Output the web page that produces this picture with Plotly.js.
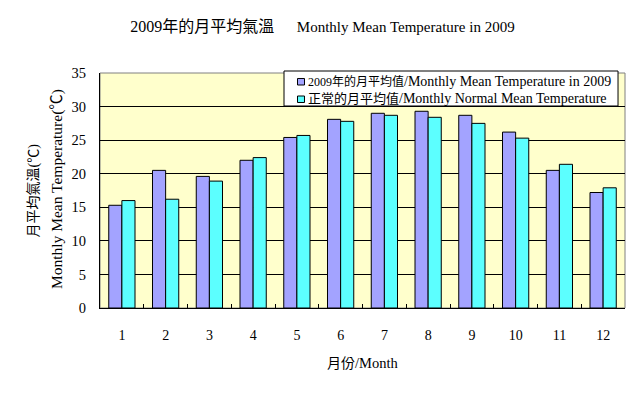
<!DOCTYPE html>
<html>
<head>
<meta charset="utf-8">
<script src="https://cdn.plot.ly/plotly-3.0.1.min.js"></script>
<style>html,body{margin:0;padding:0;background:#fff;}#chart{width:644px;height:393px;}</style>
</head>
<body>
<div id="chart"></div>
<script>
var months = ['1','2','3','4','5','6','7','8','9','10','11','12'];
var mean2009 = [15.3, 20.5, 19.6, 22.0, 25.4, 28.1, 29.0, 29.3, 28.7, 26.2, 20.5, 17.2];
var normalMean = [16.0, 16.2, 18.9, 22.4, 25.7, 27.8, 28.7, 28.4, 27.5, 25.3, 21.4, 17.9];
var seriesCJK = ['2009年的月平均值', '正常的月平均值'];
var seriesEN = ['/Monthly Mean Temperature in 2009', '/Monthly Normal Mean Temperature'];
var seriesColors = ['#A3A3FF', '#5CFFFF'];
var yTicks = [0, 5, 10, 15, 20, 25, 30, 35];

var FONT = '"Liberation Serif", "Times New Roman", "Noto Sans CJK TC", serif';
function cjk(t, s) { return '<span style="font-size:' + s + 'px">' + t + '</span>'; }

var traces = [
  {type: 'bar', x: months, y: mean2009, name: seriesCJK[0] + seriesEN[0],
   marker: {color: seriesColors[0], line: {color: '#000', width: 1}}},
  {type: 'bar', x: months, y: normalMean, name: seriesCJK[1] + seriesEN[1],
   marker: {color: seriesColors[1], line: {color: '#000', width: 1}}}
];

// legend drawn as a framed box in paper coordinates
var legendShapes = [
  {type: 'rect', xref: 'paper', yref: 'paper', x0: 0.3505, x1: 0.9867, y0: 0.8596, y1: 1.0085,
   fillcolor: '#ffffff', line: {color: '#000', width: 1}, layer: 'above'},
  {type: 'rect', xref: 'paper', yref: 'paper', x0: 0.3762, x1: 0.3895, y0: 0.9489, y1: 0.9766,
   fillcolor: seriesColors[0], line: {color: '#000', width: 1}, layer: 'above'},
  {type: 'rect', xref: 'paper', yref: 'paper', x0: 0.3762, x1: 0.3895, y0: 0.8745, y1: 0.9021,
   fillcolor: seriesColors[1], line: {color: '#000', width: 1}, layer: 'above'}
];

var layout = {
  width: 644, height: 393,
  margin: {l: 100, r: 19, t: 73, b: 85},
  paper_bgcolor: '#ffffff',
  plot_bgcolor: '#FFFFCC',
  font: {family: FONT, size: 14, color: '#000'},
  barmode: 'group',
  bargap: 0.4,
  bargroupgap: 0,
  showlegend: false,
  title: {text: cjk('2009年的月平均氣溫', 16) + '      Monthly Mean Temperature in 2009',
          x: 0.5008, xanchor: 'center', y: 0.931, yanchor: 'middle',
          font: {family: FONT, size: 15, color: '#000'}},
  xaxis: {type: 'category', showgrid: false, showline: true, linecolor: '#000', linewidth: 1,
          ticks: 'inside', tickson: 'boundaries', ticklen: 4, tickcolor: '#000',
          ticklabelstandoff: 14,
          tickfont: {family: FONT, size: 14}, zeroline: false},
  yaxis: {range: [0, 35], tickvals: yTicks, ticktext: yTicks.map(String),
          showgrid: true, gridcolor: '#000', gridwidth: 1,
          showline: true, linecolor: '#000', linewidth: 1,
          ticks: '', zeroline: false, ticklabelstandoff: 10,
          tickfont: {family: FONT, size: 14.5}},
  shapes: [{type: 'rect', xref: 'paper', yref: 'paper', x0: 0, x1: 1, y0: 0, y1: 1,
            line: {color: '#808080', width: 1}, layer: 'below'}].concat(legendShapes),
  annotations: [
    {xref: 'paper', yref: 'paper', x: 0.3924, y: 0.9638, xanchor: 'left', yanchor: 'middle', showarrow: false,
     text: cjk(seriesCJK[0], 12) + seriesEN[0], font: {family: FONT, size: 14}},
    {xref: 'paper', yref: 'paper', x: 0.3924, y: 0.8894, xanchor: 'left', yanchor: 'middle', showarrow: false,
     text: cjk(seriesCJK[1], 13) + seriesEN[1], font: {family: FONT, size: 14}},
    {xref: 'paper', yref: 'paper', x: -0.1276, y: 0.5, xanchor: 'center', yanchor: 'middle', showarrow: false,
     textangle: -90, text: '月平均氣溫(℃)', font: {family: FONT, size: 14}},
    {xref: 'paper', yref: 'paper', x: -0.0819, y: 0.506, xanchor: 'center', yanchor: 'middle', showarrow: false,
     textangle: -90, text: 'Monthly Mean Temperature(℃)', font: {family: FONT, size: 15.5}},
    {xref: 'paper', yref: 'paper', x: 0.5, y: -0.234, xanchor: 'center', yanchor: 'middle', showarrow: false,
     text: cjk('月份', 14) + '/Month', font: {family: FONT, size: 14.5}}
  ]
};

Plotly.newPlot('chart', traces, layout, {displayModeBar: false, staticPlot: true});
</script>
</body>
</html>
